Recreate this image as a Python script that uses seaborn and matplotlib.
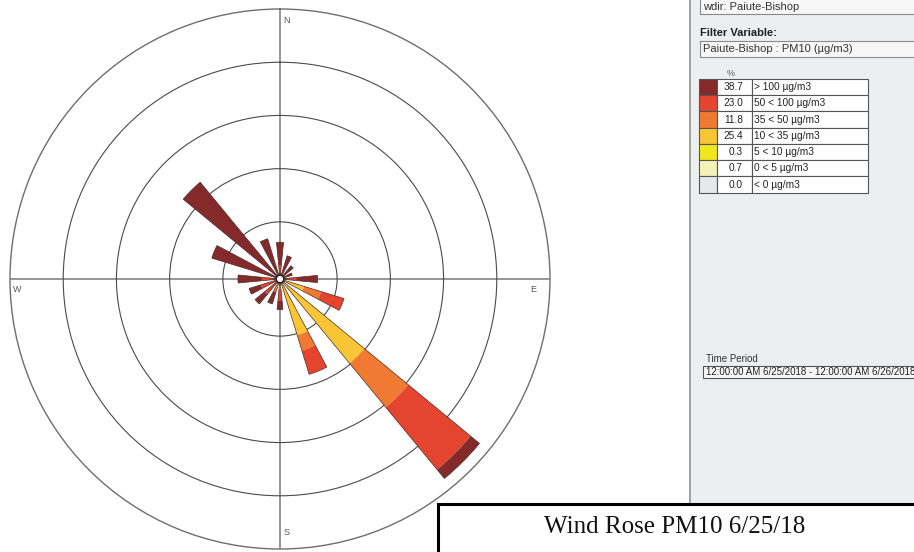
import numpy as np
import matplotlib.pyplot as plt
import seaborn as sns
from matplotlib.patches import Rectangle

sns.set_theme(style='white')
plt.rcParams['font.family'] = ['Liberation Sans', 'DejaVu Sans']

# wind directions (16 sectors, clockwise from N)
directions = ['N', 'NNE', 'NE', 'ENE', 'E', 'ESE', 'SE', 'SSE',
              'S', 'SSW', 'SW', 'WSW', 'W', 'WNW', 'NW', 'NNW']

# PM10 classes, legend order (top -> bottom)
class_labels = ['> 100 µg/m3', '50 < 100 µg/m3', '35 < 50 µg/m3', '10 < 35 µg/m3',
                '5 < 10 µg/m3', '0 < 5 µg/m3', '< 0 µg/m3']
class_pct = [38.7, 23.0, 11.8, 25.4, 0.3, 0.7, 0.0]
class_colors = ['#842a2a', '#e5452f', '#f07a32', '#f8c535', '#f2e61e', '#f5f2b8', '#e6e8ec']

# frequency (% of time) per direction for each class
freq_lt0 = [0, 0, 0, 0, 0, 0, 0, 0, 0, 0, 0, 0, 0, 0, 0, 0]
freq_0_5 = [0, 0, 0, 0, 0, 0, 0.4, 0.3, 0, 0, 0, 0, 0, 0, 0, 0]
freq_5_10 = [0, 0, 0, 0, 0, 0, 0.2, 0, 0, 0, 0, 0, 0, 0, 0, 0]
freq_10_35 = [0, 0, 0, 0, 0, 2.4, 11.3, 5.9, 0.7, 0.6, 0, 0, 0, 0, 0, 0]
freq_35_50 = [0, 0, 0, 0, 0, 2.0, 6.4, 1.8, 0, 0.5, 0, 0, 0, 0, 0, 0]
freq_50_100 = [1.1, 0, 0, 0, 1.4, 2.7, 9.1, 2.8, 1.3, 0, 1.8, 1.8, 1.6, 0, 0, 0]
freq_gt100 = [2.6, 2.3, 1.5, 1.0, 2.4, 0, 1.3, 0, 1.0, 1.4, 1.4, 1.4, 2.7, 7.6, 13.7, 4.3]

# stacking order: lowest class at the centre
stack = [freq_lt0, freq_0_5, freq_5_10, freq_10_35, freq_35_50, freq_50_100, freq_gt100]
stack_colors = class_colors[::-1]

W_PX, H_PX = 914, 552
fig = plt.figure(figsize=(W_PX / 100, H_PX / 100), dpi=100)
fig.patch.set_facecolor('white')

# wind rose
ax = fig.add_axes([10 / W_PX, 3 / H_PX, 540 / W_PX, 540 / H_PX], projection='polar')
ax.set_theta_zero_location('N')
ax.set_theta_direction(-1)
theta = np.deg2rad(np.arange(len(directions)) * 360 / len(directions))
width = np.deg2rad(11)

bottom = np.zeros(len(directions))
for vals, col in zip(stack, stack_colors):
    vals = np.array(vals)
    ax.bar(theta, vals, width=width, bottom=bottom, color=col, linewidth=0, zorder=2)
    bottom += vals
ax.bar(theta, bottom, width=width, fill=False, edgecolor='#4a2e2a', linewidth=0.5, zorder=3)

ax.set_ylim(0, 30)
ax.set_rorigin(-0.44)
ax.set_yticks([0, 6, 12, 18, 24])
ax.set_yticklabels([])
ax.set_xticks(np.deg2rad([0, 90, 180, 270]))
ax.set_xticklabels([])
ax.xaxis.grid(True, color='#8c8c8c', linewidth=1.3)
ax.yaxis.grid(True, color='#4a4a4a', linewidth=0.8)
ax.spines['polar'].set_color('#6e6e6e')
ax.spines['polar'].set_linewidth(1.0)
ax.set_facecolor('white')

for lab, ang, off in [('N', 0, (5, -8)), ('E', 90, (-11.3, -7.4)),
                      ('S', 180, (4.8, 11.3)), ('W', 270, (4.8, -7.9))]:
    ax.annotate(lab, xy=(np.deg2rad(ang), 29.9), xytext=off, textcoords='offset points',
                ha='center', va='center', fontsize=6.5, color='#555555', zorder=4,
                annotation_clip=False)

# side panel and title box (pixel coordinates)
ov = fig.add_axes([0, 0, 1, 1], zorder=5)
ov.set_xlim(0, W_PX)
ov.set_ylim(H_PX, 0)
ov.axis('off')
ov.patch.set_alpha(0)

ov.add_patch(Rectangle((690, 0), 230, H_PX, facecolor='#eceef0', edgecolor='none'))
ov.plot([690, 690], [0, H_PX], color='#9a9a9a', linewidth=1.3)

box_kw = dict(facecolor='#f7f7f7', edgecolor='#8a8a8a', linewidth=0.8)
ov.add_patch(Rectangle((700, -2), 230, 15.5, **box_kw))
ov.text(703, 6.5, 'wdir: Paiute-Bishop', fontsize=8, color='#333333', va='center')
ov.text(700, 32.5, 'Filter Variable:', fontsize=8, fontweight='bold', color='#222222', va='center')
ov.add_patch(Rectangle((700, 41), 230, 15.5, **box_kw))
ov.text(703, 49, 'Paiute-Bishop : PM10 (µg/m3)', fontsize=8, color='#333333', va='center')
ov.text(731, 73, '%', fontsize=6.5, color='#555555', ha='center', va='center')

row_h = 16.24
x0, x1, x2, x3 = 699.3, 716.7, 751.7, 868.3
for i, (lab, pct, col) in enumerate(zip(class_labels, class_pct, class_colors)):
    y = 79 + i * row_h
    ov.add_patch(Rectangle((x0, y), x1 - x0, row_h, facecolor=col, edgecolor='#555555', linewidth=0.8))
    ov.add_patch(Rectangle((x1, y), x2 - x1, row_h, facecolor='white', edgecolor='#555555', linewidth=0.8))
    ov.add_patch(Rectangle((x2, y), x3 - x2, row_h, facecolor='white', edgecolor='#555555', linewidth=0.8))
    ov.text(743, y + row_h / 2, f'{pct:.1f}', fontsize=7.3, color='#222222', ha='right', va='center')
    ov.text(753.5, y + row_h / 2, lab, fontsize=7.3, color='#222222', ha='left', va='center')

ov.text(706, 358.5, 'Time Period', fontsize=7, color='#333333', va='center')
ov.add_patch(Rectangle((703, 366), 230, 11.5, facecolor='#f7f7f7', edgecolor='#555555', linewidth=0.8))
ov.text(706, 371.8, '12:00:00 AM 6/25/2018 - 12:00:00 AM 6/26/2018', fontsize=7,
        color='#222222', va='center')

ov.add_patch(Rectangle((437.5, 503.5), 490, 60, facecolor='white', edgecolor='black',
                       linewidth=2.2, zorder=6))
ov.text(675, 527, 'Wind Rose PM10 6/25/18', fontsize=18, family='Liberation Serif',
        color='#111111', ha='center', va='center', zorder=7)

fig.savefig('out.png', dpi=100)
